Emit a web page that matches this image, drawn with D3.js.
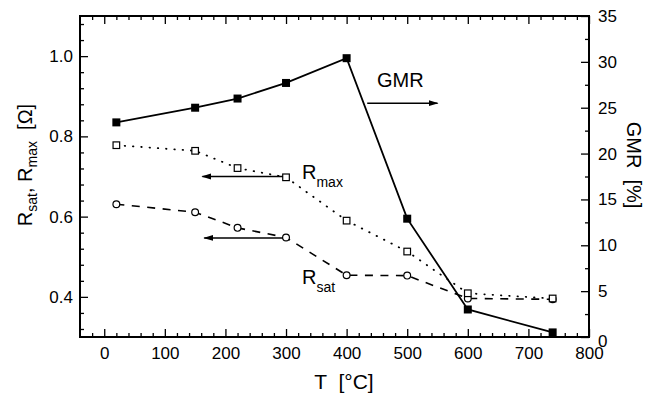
<!DOCTYPE html>
<html>
<head>
<meta charset="utf-8">
<script src="https://cdn.jsdelivr.net/npm/d3@7"></script>
<style>
  html, body { margin: 0; padding: 0; background: #fff; }
  svg { display: block; font-family: "Liberation Sans", Arial, Helvetica, sans-serif; }
</style>
</head>
<body>
<svg id="chart" width="653" height="396"></svg>
<script>
// ---- data ----
const temps = [20, 150, 220, 300, 400, 500, 600, 740];
const gmr   = [23.4, 25.0, 26.0, 27.7, 30.4, 12.9, 3.0, 0.5];
const rMax  = [0.778, 0.764, 0.721, 0.698, 0.590, 0.513, 0.409, 0.396];
const rSat  = [0.631, 0.611, 0.572, 0.548, 0.454, 0.453, 0.396, 0.394];
const xTicks = [0, 100, 200, 300, 400, 500, 600, 700, 800];
const yLeftTicks = [0.4, 0.6, 0.8, 1.0];
const yRightTicks = [0, 5, 10, 15, 20, 25, 30, 35];

const svg = d3.select("#chart");
const L = 80, R = 589, T = 16, B = 337;

const x = d3.scaleLinear().domain([-40, 800]).range([L, R]);
const yL = d3.scaleLinear().domain([0.3, 1.1]).range([B, T]);
const yR = d3.scaleLinear().domain([0, 35]).range([B, T]);

const xMinor = d3.range(-20, 800, 20).filter(v => v % 100 !== 0);
const yLMinor = d3.range(0.32, 1.09, 0.04).filter(v => !yLeftTicks.some(t => Math.abs(t - v) < 1e-6));
const yRMinor = d3.range(2.5, 35, 5);

function styleAxis(g, fs) {
  g.select(".domain").remove();
  g.selectAll("line").attr("stroke", "#000").attr("stroke-width", 1.3);
  g.selectAll("text").attr("font-size", fs).attr("fill", "#000").attr("font-family", "Liberation Sans, Arial, sans-serif");
}

// bottom axis
svg.append("g").attr("transform", `translate(0,${B})`)
  .call(d3.axisBottom(x).tickValues(xTicks).tickSize(-8).tickPadding(10).tickFormat(d3.format("d")))
  .call(g => styleAxis(g, 17));
svg.append("g").attr("transform", `translate(0,${B})`)
  .call(d3.axisBottom(x).tickValues(xMinor).tickSize(-4).tickFormat(""))
  .call(g => styleAxis(g, 17));
// top axis
svg.append("g").attr("transform", `translate(0,${T})`)
  .call(d3.axisTop(x).tickValues(xTicks).tickSize(-8).tickFormat(""))
  .call(g => styleAxis(g, 17));
svg.append("g").attr("transform", `translate(0,${T})`)
  .call(d3.axisTop(x).tickValues(xMinor).tickSize(-4).tickFormat(""))
  .call(g => styleAxis(g, 17));
// left axis
svg.append("g").attr("transform", `translate(${L},0)`)
  .call(d3.axisLeft(yL).tickValues(yLeftTicks).tickSize(-8).tickPadding(7).tickFormat(d3.format(".1f")))
  .call(g => styleAxis(g, 17));
svg.append("g").attr("transform", `translate(${L},0)`)
  .call(d3.axisLeft(yL).tickValues(yLMinor).tickSize(-4).tickFormat(""))
  .call(g => styleAxis(g, 17));
// right axis
const ra = svg.append("g").attr("transform", `translate(${R},0)`)
  .call(d3.axisRight(yR).tickValues(yRightTicks).tickSize(-8).tickPadding(9).tickFormat(d3.format("d")))
  .call(g => styleAxis(g, 17));
ra.selectAll(".tick text").filter(d => d === 0).attr("dy", "0.55em");
svg.append("g").attr("transform", `translate(${R},0)`)
  .call(d3.axisRight(yR).tickValues(yRMinor).tickSize(-4).tickFormat(""))
  .call(g => styleAxis(g, 17));

// frame
svg.append("rect").attr("x", L).attr("y", T).attr("width", R - L).attr("height", B - T)
  .attr("fill", "none").attr("stroke", "#000").attr("stroke-width", 2);

// lines
const lineL = d3.line().x((d, i) => x(temps[i])).y(d => yL(d));
const lineR = d3.line().x((d, i) => x(temps[i])).y(d => yR(d));

svg.append("path").datum(rSat).attr("d", lineL).attr("fill", "none")
  .attr("stroke", "#000").attr("stroke-width", 1.6).attr("stroke-dasharray", "8,7.5");
svg.append("path").datum(rMax).attr("d", lineL).attr("fill", "none")
  .attr("stroke", "#000").attr("stroke-width", 1.8).attr("stroke-linecap", "round").attr("stroke-dasharray", "0.5,7.8");
svg.append("path").datum(gmr).attr("d", lineR).attr("fill", "none")
  .attr("stroke", "#000").attr("stroke-width", 1.8);

// markers
svg.append("g").selectAll("circle").data(rSat).join("circle")
  .attr("cx", (d, i) => x(temps[i])).attr("cy", d => yL(d)).attr("r", 3.4)
  .attr("fill", "#fff").attr("stroke", "#000").attr("stroke-width", 1.2);
svg.append("g").selectAll("rect").data(rMax).join("rect")
  .attr("x", (d, i) => x(temps[i]) - 3.3).attr("y", d => yL(d) - 3.3)
  .attr("width", 6.6).attr("height", 6.6)
  .attr("fill", "#fff").attr("stroke", "#000").attr("stroke-width", 1.2);
svg.append("g").selectAll("rect").data(gmr).join("rect")
  .attr("x", (d, i) => x(temps[i]) - 4).attr("y", d => yR(d) - 4)
  .attr("width", 8).attr("height", 8).attr("fill", "#000");

// arrows
const defs = svg.append("defs");
defs.append("marker").attr("id", "ah").attr("viewBox", "0 0 10 8")
  .attr("refX", 9).attr("refY", 4).attr("markerWidth", 10).attr("markerHeight", 8)
  .attr("markerUnits", "userSpaceOnUse").attr("orient", "auto")
  .append("path").attr("d", "M0,1 L10,4 L0,7 Z").attr("fill", "#000");

function arrow(t1, y1, t2, y2) {
  svg.append("line").attr("x1", x(t1)).attr("y1", y1).attr("x2", x(t2)).attr("y2", y2)
    .attr("stroke", "#000").attr("stroke-width", 1.5).attr("marker-end", "url(#ah)");
}
arrow(434, yR(25.5), 550, yR(25.5));
arrow(295, yL(0.70), 162, yL(0.70));
arrow(295, yL(0.547), 165, yL(0.547));

// annotations
svg.append("text").attr("x", 377).attr("y", 87).attr("font-size", 20).text("GMR");
const tm = svg.append("text").attr("x", 302).attr("y", 179).attr("font-size", 20);
tm.append("tspan").text("R");
tm.append("tspan").attr("font-size", 14).attr("dy", 8).text("max");
const ts = svg.append("text").attr("x", 302).attr("y", 284).attr("font-size", 20);
ts.append("tspan").text("R");
ts.append("tspan").attr("font-size", 14).attr("dy", 8).text("sat");

// axis titles
svg.append("text").attr("x", 344).attr("y", 389).attr("text-anchor", "middle")
  .attr("font-size", 21).attr("xml:space", "preserve").text("T  [°C]");

const lt = svg.append("text").attr("transform", "translate(32,165) rotate(-90)")
  .attr("text-anchor", "middle").attr("font-size", 20).attr("xml:space", "preserve");
lt.append("tspan").text("R");
lt.append("tspan").attr("font-size", 14).attr("dy", 5).text("sat");
lt.append("tspan").attr("dy", -5).text(", R");
lt.append("tspan").attr("font-size", 14).attr("dy", 5).text("max");
lt.append("tspan").attr("dy", -5).text("  [Ω]");

svg.append("text").attr("transform", "translate(627,165) rotate(90)")
  .attr("text-anchor", "middle").attr("font-size", 20).attr("xml:space", "preserve")
  .text("GMR  [%]");
</script>
</body>
</html>
